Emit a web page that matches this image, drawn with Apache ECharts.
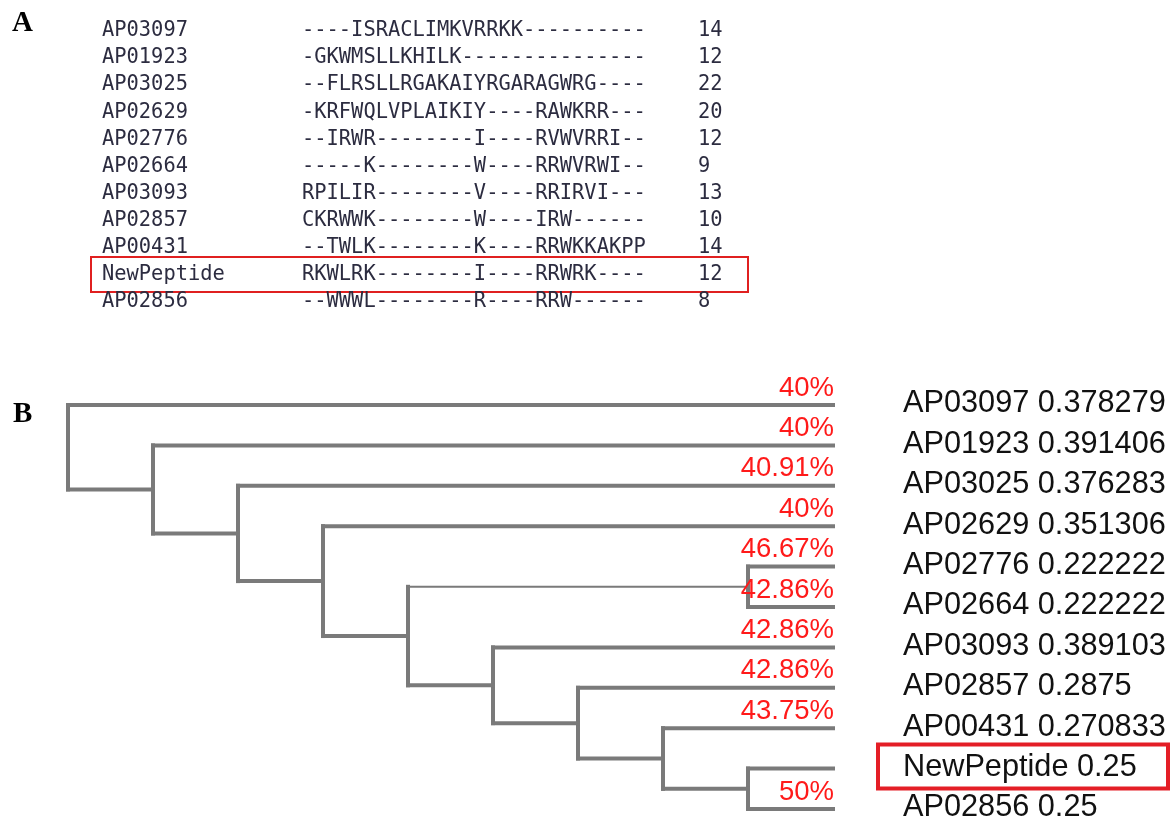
<!DOCTYPE html>
<html><head><meta charset="utf-8">
<script src="https://cdn.jsdelivr.net/npm/echarts@6/dist/echarts.min.js"></script>
<style>html,body{margin:0;padding:0;background:#fff}#c{width:1171px;height:821px}</style>
</head><body><div id="c"></div>
<script>
// ---- Panel A: alignment ----
const alignNames = ['AP03097','AP01923','AP03025','AP02629','AP02776','AP02664','AP03093','AP02857','AP00431','NewPeptide','AP02856'];
const alignSeqs = [
  '----ISRACLIMKVRRKK----------',
  '-GKWMSLLKHILK---------------',
  '--FLRSLLRGAKAIYRGARAGWRG----',
  '-KRFWQLVPLAIKIY----RAWKRR---',
  '--IRWR--------I----RVWVRRI--',
  '-----K--------W----RRWVRWI--',
  'RPILIR--------V----RRIRVI---',
  'CKRWWK--------W----IRW------',
  '--TWLK--------K----RRWKKAKPP',
  'RKWLRK--------I----RRWRK----',
  '--WWWL--------R----RRW------'
];
const alignLengths = [14,12,22,20,12,9,13,10,14,12,8];
const highlightName = 'NewPeptide';

// ---- Panel B: tree ----
const treeTopology = ['AP03097', ['AP01923', ['AP03025', ['AP02629',
  [['AP02776','AP02664'], ['AP03093', ['AP02857', ['AP00431', ['NewPeptide','AP02856']]]]]]]]];
const leafNames = ['AP03097','AP01923','AP03025','AP02629','AP02776','AP02664','AP03093','AP02857','AP00431','NewPeptide','AP02856'];
const leafDistances = ['0.378279','0.391406','0.376283','0.351306','0.222222','0.222222','0.389103','0.2875','0.270833','0.25','0.25'];
const leafIdentity = ['40%','40%','40.91%','40%','46.67%','42.86%','42.86%','42.86%','43.75%','','50%'];

// build dendrogram segments from topology (x = node height, y = leaf index)
const leafOrder = [];
const segs = [];
function layout(node){
  if (typeof node === 'string'){ const y = leafOrder.length; leafOrder.push(node); return {h:0, y:y, leaf:true}; }
  const kids = node.map(layout);
  const h = Math.max.apply(null, kids.map(k=>k.h)) + 1;
  const y0 = kids[0].y, y1 = kids[kids.length-1].y;
  segs.push([h, y0, h, y1, 0]);
  kids.forEach((k, idx) => {
    const thin = (!k.leaf && idx < kids.length-1) ? 1 : 0;
    segs.push([h, k.y, k.h, k.y, thin]);
  });
  return {h:h, y:(y0+y1)/2, leaf:false};
}
const rootInfo = layout(treeTopology);
const maxH = rootInfo.h;

const chart = echarts.init(document.getElementById('c'), null, {renderer:'canvas'});
const lineColor = '#7a7a7a';
const option = {
  animation:false,
  backgroundColor:'#fff',
  grid:[
    {left:68, top:405, width:765, height:404},
    {left:102, top:31, width:600, height:271}
  ],
  xAxis:[
    {gridIndex:0, type:'value', min:0, max:maxH, inverse:true, show:false},
    {gridIndex:1, type:'value', min:0, max:1, show:false}
  ],
  yAxis:[
    {gridIndex:0, type:'value', min:0, max:leafOrder.length-1, inverse:true, show:false},
    {gridIndex:1, type:'value', min:0, max:alignNames.length-1, inverse:true, show:false}
  ],
  graphic:[
    {type:'text', left:12, top:9, style:{text:'A', font:'bold 29px "Liberation Serif"', fill:'#000'}},
    {type:'text', left:13, top:400, style:{text:'B', font:'bold 29px "Liberation Serif"', fill:'#000'}}
  ],
  series:[
    {
      type:'custom', xAxisIndex:0, yAxisIndex:0, silent:true,
      data:segs,
      encode:{x:[0,2], y:[1,3]},
      renderItem:function(params, api){
        const p1 = api.coord([api.value(0), api.value(1)]);
        const p2 = api.coord([api.value(2), api.value(3)]);
        const thin = api.value(4) === 1;
        return {type:'line', shape:{x1:p1[0], y1:p1[1], x2:p2[0], y2:p2[1]},
          style:{stroke:lineColor, lineWidth: thin ? 2 : 4, lineCap:'square'}};
      }
    },
    {
      type:'custom', xAxisIndex:0, yAxisIndex:0, silent:true,
      data:leafNames.map((n,i)=>[0,i]),
      renderItem:function(params, api){
        const i = params.dataIndex;
        const p = api.coord([0, i]);
        const children = [
          {type:'text', x:p[0]+70, y:p[1]-1, style:{text:leafNames[i]+' '+leafDistances[i], font:'30.7px "Liberation Sans"', fill:'#111', textAlign:'left', textVerticalAlign:'middle'}}
        ];
        if (leafIdentity[i]) children.push({type:'text', x:p[0]+1, y:p[1]-17, style:{text:leafIdentity[i], font:'27.5px "Liberation Sans"', fill:'#ff1a1a', textAlign:'right', textVerticalAlign:'middle'}});
        if (leafNames[i] === highlightName) children.push({type:'rect', shape:{x:p[0]+45, y:p[1]-24, width:290, height:44}, style:{fill:'none', stroke:'#e41e26', lineWidth:4}});
        return {type:'group', children:children};
      }
    },
    {
      type:'custom', xAxisIndex:1, yAxisIndex:1, silent:true,
      data:alignNames.map((n,i)=>[0,i]),
      renderItem:function(params, api){
        const i = params.dataIndex;
        const p = api.coord([0, i]);
        const f = '20.4px "DejaVu Sans Mono"';
        const col = '#2c2c40';
        const children = [
          {type:'text', x:p[0], y:p[1], style:{text:alignNames[i], font:f, fill:col, textVerticalAlign:'middle'}},
          {type:'text', x:p[0]+200, y:p[1], style:{text:alignSeqs[i], font:f, fill:col, textVerticalAlign:'middle'}},
          {type:'text', x:p[0]+596, y:p[1], style:{text:String(alignLengths[i]), font:f, fill:col, textVerticalAlign:'middle'}}
        ];
        if (alignNames[i] === highlightName) children.push({type:'rect', shape:{x:p[0]-11, y:p[1]-18, width:657, height:35}, style:{fill:'none', stroke:'#e02020', lineWidth:2}});
        return {type:'group', children:children};
      }
    }
  ]
};
chart.setOption(option);
</script>
</body></html>
